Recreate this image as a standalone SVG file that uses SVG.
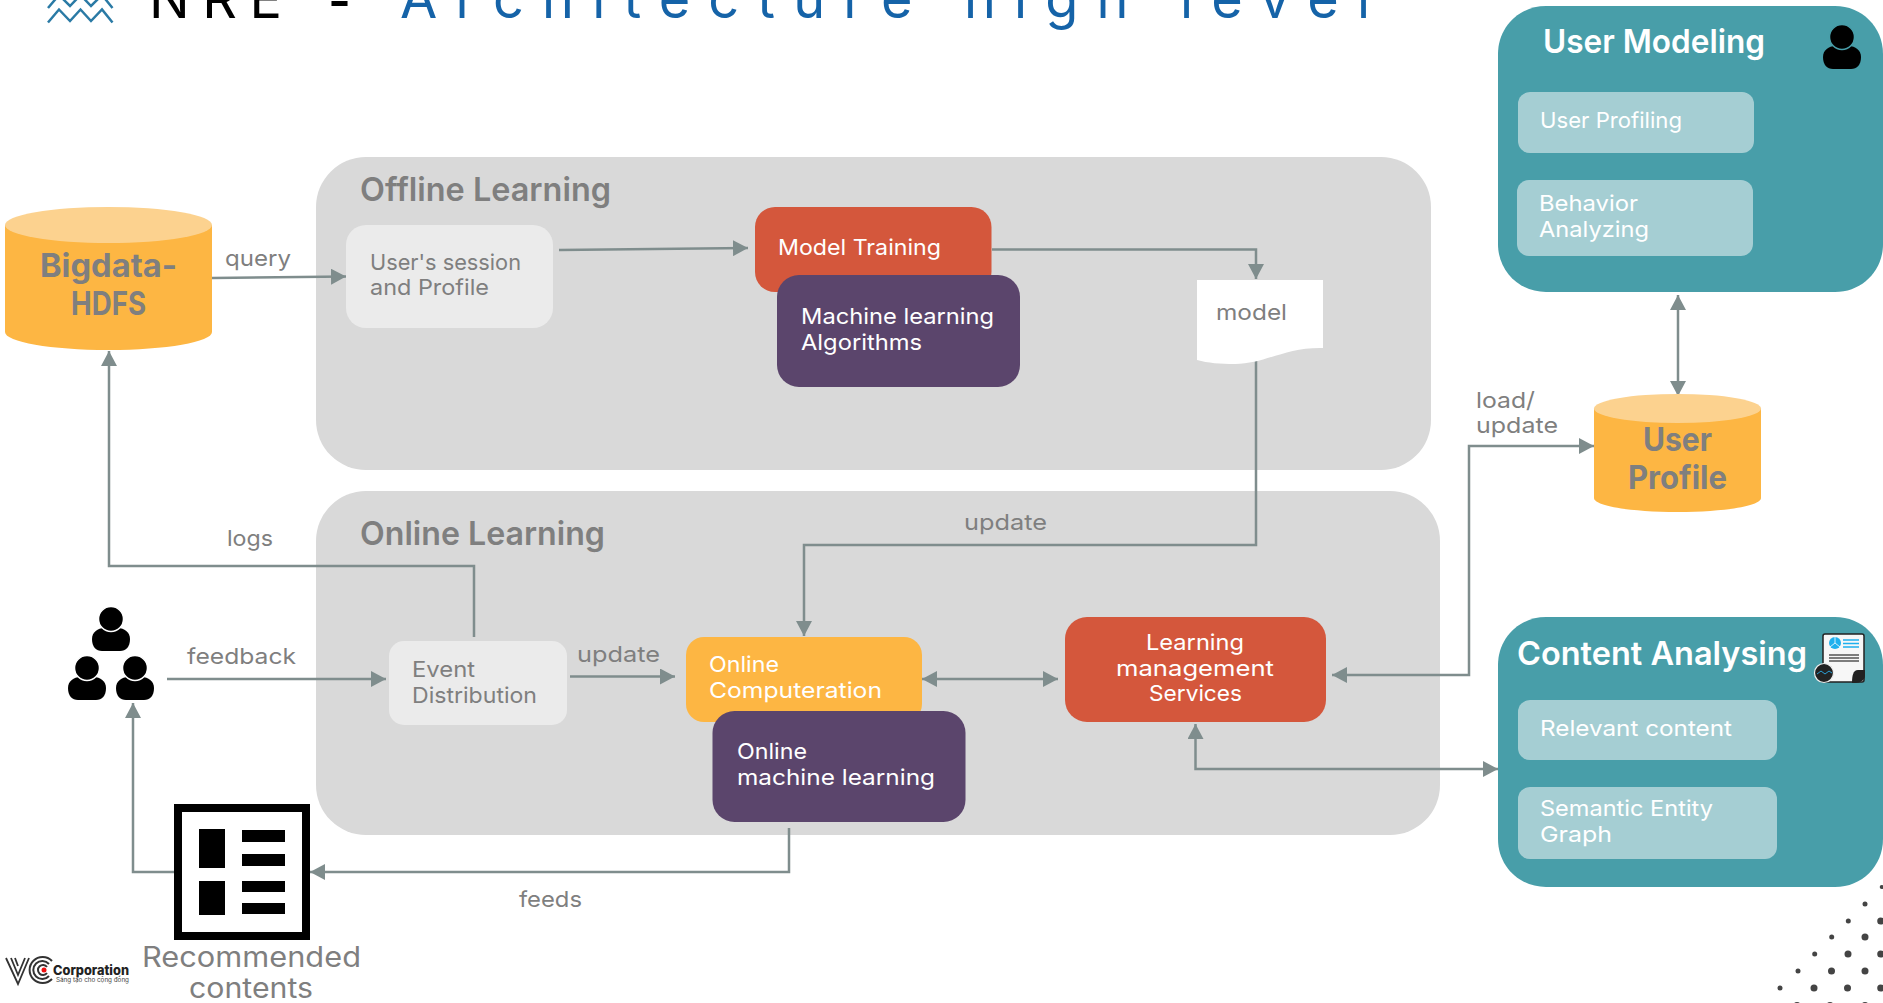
<svg xmlns="http://www.w3.org/2000/svg" xmlns:xlink="http://www.w3.org/1999/xlink" width="1883" height="1003" viewBox="0 0 1883 1003">
<style>
text{font-family:"Inter","Liberation Sans",sans-serif;font-size:22px}
.g{fill:#7f7f7f}
.w{fill:#fff}
.h{font-size:33px;font-weight:600}
.hw{font-size:33px;font-weight:600;fill:#fff}
.cy{font-size:32px;font-weight:700;fill:#7f7f7f}
.t{font-size:54px}
.panel{fill:#d9d9d9}
.teal{fill:#489ea9}
.sub{fill:#a5ced3}
.red{fill:#d4573c}
.pur{fill:#5b456c}
.org{fill:#fdb643}
.top{fill:#fcd28f}
.lt{fill:#ebebeb}
.c{fill:none;stroke:#7f8d8d;stroke-width:2.5}
.a{marker-end:url(#ah)}
.b{marker-end:url(#ah);marker-start:url(#ah)}
.dot{fill:#444}
</style>
<defs>
<marker id="ah" markerUnits="userSpaceOnUse" markerWidth="16" markerHeight="16" refX="15" refY="8" orient="auto-start-reverse"><path d="M0 0L15 8L0 16Z" fill="#7f8d8d"/></marker>
<g id="person"><path d="M-19 20C-19 13-13 9-7 9H7C13 9 19 13 19 20C19 28 15 32 9 32H-9C-15 32-19 28-19 20Z" fill="#000"/><circle r="12.500" fill="#000" stroke="currentColor" stroke-width="1.500"/></g>
</defs>

<g id="title">
<g fill="none" stroke="#2a7aa5" stroke-width="2.5"><path d="M48 22.500L59 9.500L70 21L80.500 9.500L91 21L102 9.500L112.500 22.500"/><path d="M48 8L59 -5L70 6L80.500 -5L91 6L102 -5L112.500 8"/></g>
<text class="t" x="149" y="18" textLength="133" lengthAdjust="spacing" fill="#000">NRE</text>
<text class="t" x="328" y="20" textLength="23" lengthAdjust="spacingAndGlyphs" fill="#000" font-weight="500">-</text>
<text class="t" x="400" y="18" textLength="970" lengthAdjust="spacing" fill="#1563a8">Architecture high level</text>
</g>

<g id="panel-offline"><rect class="panel" x="316" y="157" width="1115" height="313" rx="50"/><text class="h g" x="360" y="201" textLength="251" lengthAdjust="spacingAndGlyphs">Offline Learning</text></g>
<g id="panel-online"><rect class="panel" x="316" y="491" width="1124" height="344" rx="50"/><text class="h g" x="360" y="545" textLength="245" lengthAdjust="spacingAndGlyphs">Online Learning</text></g>

<g id="connectors">
<path class="c a" d="M212 278L346 276.500"/>
<path class="c a" d="M559 250L748 248"/>
<path class="c a" d="M992 249.500H1256V279"/>
<path class="c a" d="M1256 360V545H804V636"/>
<path class="c a" d="M474 637V566H109V351"/>
<path class="c a" d="M167 679H386"/>
<path class="c a" d="M570 676.500H675"/>
<path class="c b" d="M922 679H1058"/>
<path class="c b" d="M1195.500 724V769H1498"/>
<path class="c b" d="M1594 446H1469V675H1332"/>
<path class="c b" d="M1678 295V396"/>
<path class="c a" d="M789 828V872H310"/>
<path class="c a" d="M174 872H133V703"/>
</g>

<g id="labels">
<text class="g" x="225" y="266" textLength="66" lengthAdjust="spacingAndGlyphs">query</text>
<text class="g" x="964" y="530" textLength="83" lengthAdjust="spacingAndGlyphs">update</text>
<text class="g" x="227" y="546" textLength="46" lengthAdjust="spacingAndGlyphs">logs</text>
<text class="g" x="187" y="664" textLength="109" lengthAdjust="spacingAndGlyphs">feedback</text>
<text class="g" x="577" y="662" textLength="83" lengthAdjust="spacingAndGlyphs">update</text>
<text class="g" x="519" y="907" textLength="63" lengthAdjust="spacingAndGlyphs">feeds</text>
<text class="g" x="1476" y="408" textLength="59" lengthAdjust="spacingAndGlyphs">load/</text>
<text class="g" x="1476" y="433" textLength="82" lengthAdjust="spacingAndGlyphs">update</text>
</g>

<g id="bigdata">
<path class="org" d="M5 225V332C5 342 51 350 108.500 350S212 342 212 332V225Z"/>
<ellipse class="top" cx="108.500" cy="225" rx="103.500" ry="18"/>
<text class="cy" x="40" y="277" textLength="137" lengthAdjust="spacingAndGlyphs">Bigdata-</text>
<text class="cy" x="71" y="315" textLength="75" lengthAdjust="spacingAndGlyphs">HDFS</text>
</g>

<g id="session"><rect class="lt" x="346" y="225" width="207" height="103" rx="20"/>
<text class="g" x="370" y="270" textLength="151" lengthAdjust="spacingAndGlyphs">User's session</text>
<text class="g" x="370" y="295" textLength="119" lengthAdjust="spacingAndGlyphs">and Profile</text></g>

<g id="model-training"><rect class="red" x="755" y="207" width="236.500" height="85" rx="20"/>
<text class="w" x="778" y="255" textLength="163" lengthAdjust="spacingAndGlyphs">Model Training</text></g>
<g id="ml-algorithms"><rect class="pur" x="777" y="275" width="243" height="112" rx="22"/>
<text class="w" x="801" y="324" textLength="193" lengthAdjust="spacingAndGlyphs">Machine learning</text>
<text class="w" x="801" y="350" textLength="121" lengthAdjust="spacingAndGlyphs">Algorithms</text></g>

<g id="model"><path fill="#fff" d="M1197 280H1323V348C1285 347 1265 364 1235 364C1220 364 1208 363 1197 360Z"/>
<text class="g" x="1216" y="320" textLength="71" lengthAdjust="spacingAndGlyphs">model</text></g>

<g id="event"><rect class="lt" x="389" y="641" width="178" height="84" rx="15"/>
<text class="g" x="412" y="677" textLength="63" lengthAdjust="spacingAndGlyphs">Event</text>
<text class="g" x="412" y="703" textLength="125" lengthAdjust="spacingAndGlyphs">Distribution</text></g>

<g id="online-computeration"><rect class="org" x="686" y="637" width="236" height="85" rx="18"/>
<text class="w" x="709" y="672" textLength="70" lengthAdjust="spacingAndGlyphs">Online</text>
<text class="w" x="709" y="698" textLength="173" lengthAdjust="spacingAndGlyphs">Computeration</text></g>
<g id="online-ml"><rect class="pur" x="712.500" y="711" width="253" height="111" rx="22"/>
<text class="w" x="737" y="759" textLength="70" lengthAdjust="spacingAndGlyphs">Online</text>
<text class="w" x="737" y="785" textLength="198" lengthAdjust="spacingAndGlyphs">machine learning</text></g>

<g id="learning-services"><rect class="red" x="1065" y="617" width="261" height="105" rx="22"/>
<text class="w" x="1146" y="650" textLength="98" lengthAdjust="spacingAndGlyphs">Learning</text>
<text class="w" x="1116" y="676" textLength="158" lengthAdjust="spacingAndGlyphs">management</text>
<text class="w" x="1149" y="701" textLength="93" lengthAdjust="spacingAndGlyphs">Services</text></g>

<g id="user-profile">
<path class="org" d="M1594 408.500V498C1594 506 1631 512 1677.500 512S1761 506 1761 498V408.500Z"/>
<ellipse class="top" cx="1677.500" cy="408.500" rx="83.500" ry="14.500"/>
<text class="cy" x="1643" y="451" textLength="69" lengthAdjust="spacingAndGlyphs">User</text>
<text class="cy" x="1628" y="489" textLength="99" lengthAdjust="spacingAndGlyphs">Profile</text>
</g>

<g id="user-modeling" color="#489ea9">
<path class="teal" d="M1546 6H1835C1862 6 1883 27 1883 54V244C1883 271 1862 292 1835 292H1546C1519 292 1498 271 1498 244V54C1498 27 1519 6 1546 6Z"/>
<text class="hw" x="1543" y="53" textLength="222" lengthAdjust="spacingAndGlyphs">User Modeling</text>
<use href="#person" xlink:href="#person" x="1842" y="37"/>
<rect class="sub" x="1518" y="92" width="236" height="61" rx="12"/>
<text class="w" x="1540" y="128" textLength="142" lengthAdjust="spacingAndGlyphs">User Profiling</text>
<rect class="sub" x="1517" y="180" width="236" height="76" rx="12"/>
<text class="w" x="1539" y="211" textLength="99" lengthAdjust="spacingAndGlyphs">Behavior</text>
<text class="w" x="1539" y="237" textLength="110" lengthAdjust="spacingAndGlyphs">Analyzing</text>
</g>

<g id="content-analysing">
<path class="teal" d="M1546 617H1835C1862 617 1883 638 1883 665V839C1883 866 1862 887 1835 887H1546C1519 887 1498 866 1498 839V665C1498 638 1519 617 1546 617Z"/>
<text class="hw" x="1517" y="665" textLength="290" lengthAdjust="spacingAndGlyphs">Content Analysing</text>
<rect x="1823" y="634" width="41" height="48" rx="2" fill="#f7f7f7" stroke="#222" stroke-width="1.500"/>
<circle cx="1835" cy="643" r="6" fill="#1fb0ee"/>
<path d="M1835 643V637M1835 643L1830 647M1835 643L1840 647" stroke="#fff" stroke-width=".8" fill="none"/>
<path d="M1843 640H1859M1843 643.500H1859M1843 647H1859" stroke="#1fb0ee" stroke-width="1.500" fill="none"/>
<path d="M1829 655H1859M1829 658H1859M1829 661H1859" stroke="#555" stroke-width="1.500" fill="none"/>
<path d="M1852 683C1852 676 1853 670 1858 670H1865V676C1865 680 1860 683 1856 683Z" fill="#222"/>
<circle cx="1824" cy="673" r="9.500" fill="#222" stroke="#eee" stroke-width="1.200"/>
<path d="M1817 674L1821 671L1825 674L1829 671L1832 673" fill="none" stroke="#2a9fd6" stroke-width="1"/>
<rect class="sub" x="1518" y="700" width="259" height="60" rx="12"/>
<text class="w" x="1540" y="736" textLength="192" lengthAdjust="spacingAndGlyphs">Relevant content</text>
<rect class="sub" x="1518" y="787" width="259" height="72" rx="12"/>
<text class="w" x="1540" y="816" textLength="173" lengthAdjust="spacingAndGlyphs">Semantic Entity</text>
<text class="w" x="1540" y="842" textLength="72" lengthAdjust="spacingAndGlyphs">Graph</text>
</g>

<g id="users" color="#fff">
<use href="#person" xlink:href="#person" x="111" y="619"/>
<use href="#person" xlink:href="#person" x="87" y="668"/>
<use href="#person" xlink:href="#person" x="135" y="668"/>
</g>

<g id="recommended">
<rect x="178" y="808" width="128" height="128" fill="#fff" stroke="#000" stroke-width="8"/>
<path d="M199 829H225V868H199ZM199 881H225V915H199ZM242 830H285V842H242ZM242 854H285V866H242ZM242 881H285V892H242ZM242 903H285V914H242Z" fill="#000"/>
<text class="g" style="font-size:28px" x="142" y="967" textLength="219" lengthAdjust="spacingAndGlyphs">Recommended</text>
<text class="g" style="font-size:28px" x="189" y="998" textLength="124" lengthAdjust="spacingAndGlyphs">contents</text>
</g>

<g id="vc-logo">
<path d="M6 958L18 984L29 958M11 958L18 975L25 958M15 958L18 966" fill="none" stroke="#333" stroke-width="1.800"/>
<g fill="none" stroke="#333" stroke-width="2"><path d="M52 961A13 13 0 1 0 52 979"/><path d="M49 964A9 9 0 1 0 49 976"/><path d="M47 967A5 5 0 1 0 47 973"/></g>
<circle cx="44" cy="970" r="2.500" fill="#e11"/>
<text x="53" y="975" textLength="76" lengthAdjust="spacingAndGlyphs" style="font-size:13px;font-weight:800" fill="#222">Corporation</text>
<text x="56" y="982" textLength="73" lengthAdjust="spacingAndGlyphs" style="font-size:6px" fill="#444">Sáng tạo cho cộng đồng</text>
</g>

<g id="dots" class="dot">
<circle cx="1881.700" cy="887" r="2"/>
<circle cx="1865" cy="904" r="2.500"/>
<circle cx="1848.300" cy="921" r="2.500"/><circle cx="1880.700" cy="921" r="3.500"/>
<circle cx="1831.700" cy="937" r="2.500"/><circle cx="1865" cy="937" r="3.500"/>
<circle cx="1814.700" cy="954" r="2.500"/><circle cx="1848" cy="954" r="3.500"/><circle cx="1880.700" cy="954" r="3.500"/>
<circle cx="1798" cy="971" r="2.500"/><circle cx="1831.500" cy="971" r="3.500"/><circle cx="1865" cy="971" r="3.500"/>
<circle cx="1780" cy="988" r="2.500"/><circle cx="1814" cy="988" r="3.500"/><circle cx="1847.500" cy="988" r="3.500"/><circle cx="1880.700" cy="988" r="3.500"/>
<circle cx="1763" cy="1005" r="2"/><circle cx="1797" cy="1005.500" r="3.500"/><circle cx="1830" cy="1005.500" r="3.500"/><circle cx="1865" cy="1005.500" r="3.500"/>
</g>
</svg>
